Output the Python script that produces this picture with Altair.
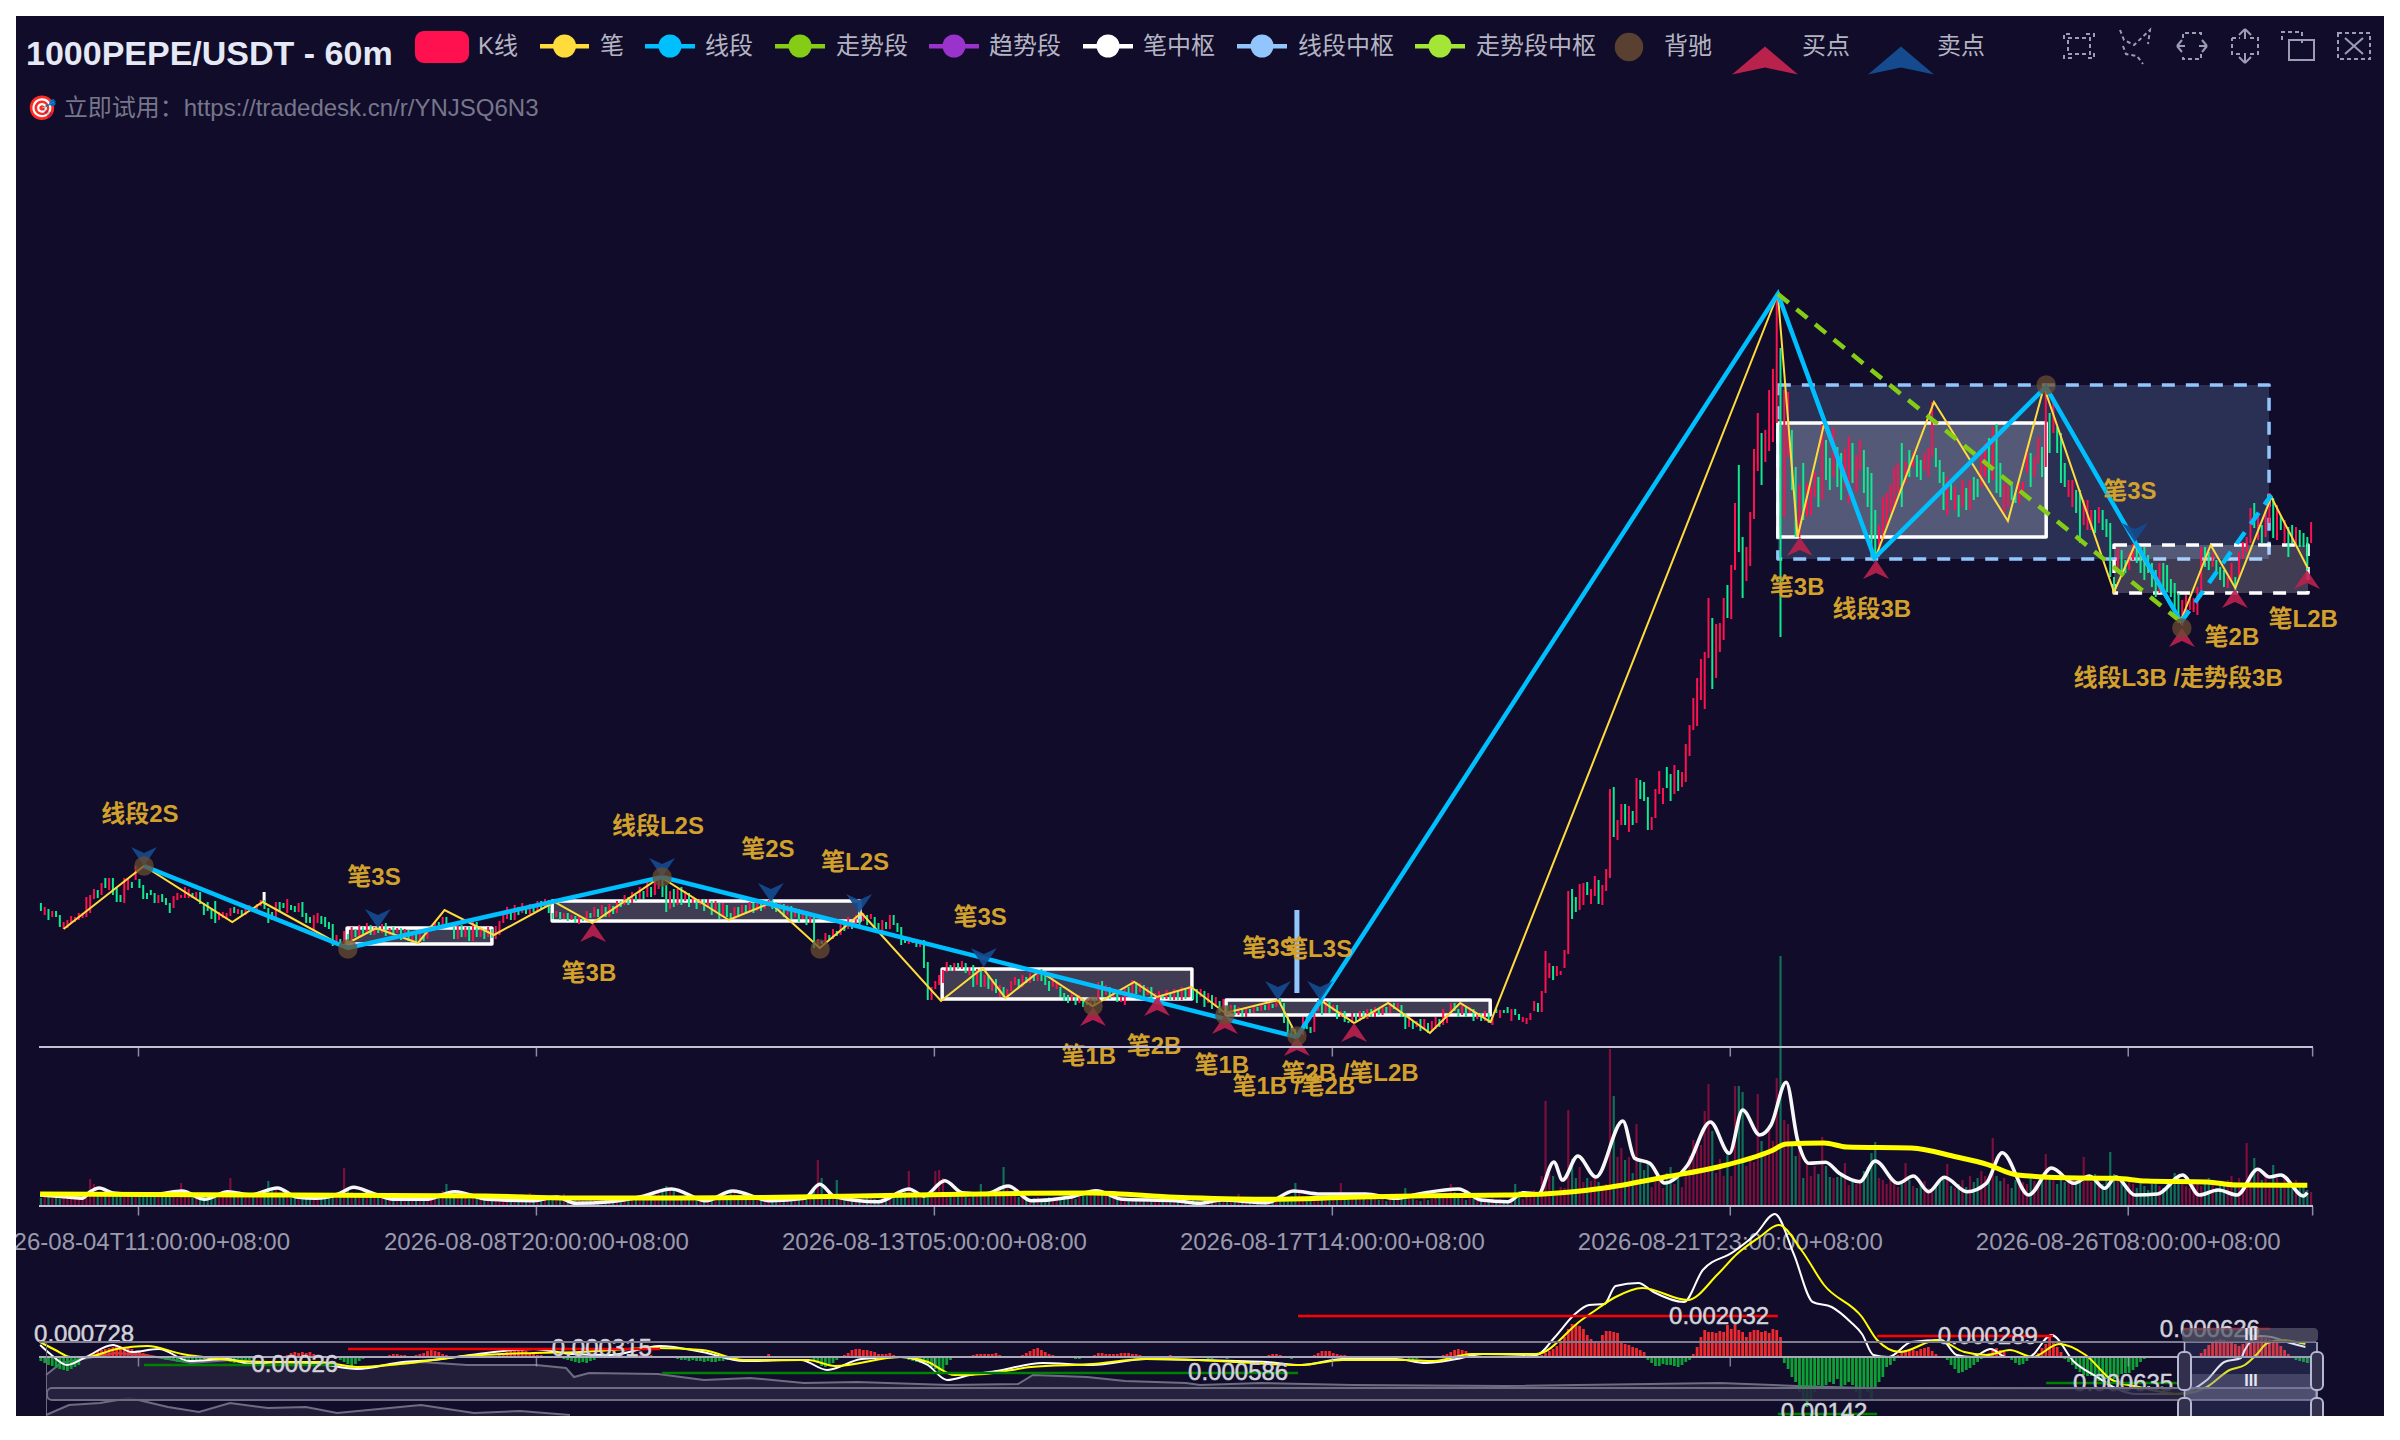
import altair as alt
import pandas as pd

FONT = "Liberation Sans, Noto Sans CJK SC, sans-serif"
BG = "#100C2A"
RED = "#FF1150"
GREEN = "#0FE98F"
YELLOW = "#FFDC3C"
BLUE = "#00BFFF"
TREND = "#84CC16"
PALE = "#93C5FD"
GOLD = "#D2A12B"
BUY = "#BA224E"
SELL = "#154B8E"

# ---------- candles (open, close), price in 1e-5 USDT above the axis floor ----------
k_000 = [(144,136),(132,140),(138,127),(130,136),(136,130),(132,120),(118,125),(119,127),(124,131),(125,130),
 (127,134),(129,134),(130,150),(134,152),(148,158),(157,149),(152,164),(169,159),(157,169),(169,152),
 (160,145),(152,145),(144,169),(157,169),(165,159),(167,181),(168,159),(162,148),(154,148),(157,152),
 (154,144),(144,152),(153,145),(149,142),(144,134),(139,151),(147,154),(149,152),(149,160),(149,158),
 (154,149),(149,155),(155,143),(144,132),(145,136),(139,128),(146,124),(127,135),(129,135),(128,134),
 (131,139),(140,134),(133,138),(137,132),(132,139),(135,142),(140,135),(137,143),(141,147),(147,138),
 (139,124),(135,127),(128,145),(145,135),(144,139),(134,148),(142,137),(141,135),(135,144),(145,130),
 (134,124),(130,124),(116,132),(124,134),(131,123),(130,120),(125,118),(123,101),(103,112),(108,102)]
k_080 = [(104,116),(113,106),(106,120),(118,110),(110,122),(120,113),(113,124),(122,112),(112,120),(120,114),
 (114,123),(124,111),(112,119),(120,113),(114,119),(119,107),(108,118),(117,106),(107,116),(116,105),
 (104,113),(112,106),(108,118),(116,122),(120,126),(125,118),(120,130),(130,122),(122,120),(120,108),
 (108,122),(122,110),(110,120),(120,106),(106,126),(125,110),(110,118),(118,108),(110,120),(118,109),(108,121)]
k_121 = [(112,126),(124,136),(128,140),(136,127),(127,142),(140,132),(134,144),(140,133),(133,143),(143,135),
 (136,146),(146,138),(140,148),(147,134),(134,128),(130,136),(135,127),(128,134),(134,126),(127,132),
 (131,124),(123,131),(130,126),(126,136),(134,129),(130,140),(138,130),(132,142),(140,130),(130,143),
 (141,133),(134,146),(146,140),(142,152),(150,142),(144,155),(152,146),(148,160),(156,148),(150,165),(160,150),(152,166),(158,170)]
k_164 = [(170,150),(162,135),(138,156),(158,140),(142,158),(160,142),(146,156),(154,140),(144,150),(148,138),
 (142,148),(148,136),(140,148),(146,132),(136,146),(144,128),(130,144),(142,130),
 (134,128),(128,140),(140,130),(132,142),(142,134),(136,145),(144,134),(136,146),(146,136),(138,144),(143,147),(147,138)]
k_194 = [(145,135),(136,144),(143,130),(132,142),(141,128),(130,139),(138,125),(128,137),(136,122),(124,132),
 (134,99),(100,108),(106,103),(104,114),(112,107),(108,118),(116,111),(112,124),(122,116),(118,130),(124,118),(120,132),(128,122),(126,134)]
k_218 = [(132,122),(128,133),(130,120),(124,118),(115,127),(125,118),(118,132),(132,122),(124,115),(120,102),
 (110,104),(103,110),(108,104),(108,100),(100,107),(107,79),(85,47),(47,60),(58,66)]
k_237 = [(62,72),(64,77),(75,85),(82,76),(76,84),(84,78),(78,86),(84,74),(72,80),(82,60),
 (62,78),(76,60),(60,72),(72,58),(56,68),(68,54),(50,62),(60,49),(50,58)]
k_256 = [(56,66),(62,70),(68,60),(60,72),(70,64),(64,74),(72,66),(66,76),(78,66),(76,62),
 (66,56),(60,70),(58,64),(60,50),(54,46),(52,44),(46,54),(50,42),(44,52),(48,40),(44,42),(40,48),(48,41)]
k_279 = [(46,65),(66,50),(52,62),(60,48),(50,58),(56,45),(45,50),(42,60),(60,52),(50,67),
 (65,53),(55,64),(62,50),(52,60),(60,48),(50,54),(46,56),(52,48),(48,57),(54,47),
 (47,58),(56,47),(47,60),(58,48),(50,61),(60,48),(58,44),(50,58),(56,40),(44,54),(52,38),(40,50),(46,34),(38,48),(42,32)]
k_314 = [(34,42),(42,32),(32,40),(38,30),(30,38),(38,34),(34,42),(40,36),(36,43),(42,37),(37,45),(43,39),(40,47),(48,43),
 (44,24),(30,14),(20,10),(18,8),(10,18),(12,30),(30,18),(20,14),(15,38),(36,47),(48,32),(34,46)]
k_340 = [(46,34),(36,42),(42,28),(30,36),(36,25),(26,24),(24,34),(34,26),(26,36),(36,28),(28,38),(38,30),(30,40),(38,32),(32,42),(40,34),(34,44),
 (44,38),(38,44),(42,30),(34,18),(20,28),(26,18),(20,26),(28,16),(18,28),(24,14),(16,26),
 (18,30),(28,20),(22,38),(24,32),(34,44),(44,36),(38,30),(32,42),(40,30),(34,40),(38,26),(28,34),(34,26),(26,36),(34,24),(22,30)]
k_384 = [(38,34),(29,37),(37,34),(40,34),(26,38),(38,32),(33,27),(25,30),(23,29),(27,34),(36,46),(44,35),(35,56)]
k_397 = [(54,96),(69,84),(81,67),(71,81),(72,76),(79,97),(93,156),(158,128),(150,135),(137,163),
 (142,164),(165,152),(143,158),(151,171),(167,143),(142,162),(156,178),(169,258),(260,210),(207,227),
 (222,243),(243,222),(215,241),(236,222),(224,269),(267,248),(265,246),(250,217),(217,230),(229,258),
 (253,276),(243,259),(280,259),(273,246),(253,282),(277,256),(260,275),(265,303),(291,322),(317,349),
 (321,369),(347,388),(338,395),(389,449),(429,358),(369,423),(395,424),(407,449),(462,429),(428,482),
 (477,544),(582,495),(510,449),(466,500),(481,535),(528,598),(576,634),(614,562),(585,617),(596,657),(605,678)]
k_458 = [(624,752),(699,410),(530,657),(590,655),(617,557),(580,510),(510,562),(584,527),(530,564),(532,560),
 (550,575),(570,540),(547,623),(607,567),(589,557),(570,619),(600,560),(594,547),(560,598),(544,610),
 (604,564),(555,592),(577,607),(597,554),(580,540),(574,490),(537,490),(490,522),(507,550),(520,554),
 (534,562),(537,580),(554,584),(604,540),(564,585),(597,570),(580,595),(592,570),(587,567),(577,594),
 (570,599),(590,645),(599,580),(587,564),(575,537),(532,570),(567,547),(537,560),(552,530),(540,567),
 (559,537),(537,567),(570,547),(568,550),(560,594),(570,604),(609,564),(567,620),(623,554),(584,550),
 (534,564),(540,562),(564,547),(554,544),(544,564),(550,565),(574,600),(594,560),(570,590),(584,610),(600,570),(580,660)]
k_530 = [(634,594),(614,650),(620,594),(614,564),(584,560),(550,567),(540,567),(557,534),(557,504),(522,547),
 (517,547),(517,537),(537,514),(524,540),(537,517),(528,510),(524,470),(470,455)]
k_548 = [(477,499),(497,470),(487,474),(477,494),(487,503),(502,484),(500,474),(500,467),(492,474),(484,460),
 (477,450),(454,484),(484,452),(482,455),(468,450),(464,430),
 (454,424),(421,447),(430,452),(437,450),(435,449),(432,460),(450,500),(500,480),(495,477),(480,494),
 (487,474),(480,467),(477,460),(459,470),(467,484),(470,456),(470,495),(488,505),(495,510),
 (504,539),(544,519),(507,534),(522,504),(510,537),(524,554),(549,509),(507,542),(532,517),(504,527),
 (520,490),(522,504),(500,520),(517,500),(514,500),(510,477),(504,525)]
kline_parts = [(0,k_000),(80,k_080),(121,k_121),(164,k_164),(194,k_194),(218,k_218),(237,k_237),(256,k_256),
               (279,k_279),(314,k_314),(340,k_340),(384,k_384),(397,k_397),(458,k_458),(530,k_530),(548,k_548)]

# ---------- volume per candle ----------
volume = [8,9,10,8,9,7,11,10,9,8,10,12,11,27,22,13,12,14,11,13,
 12,10,9,14,11,13,10,12,9,11,13,12,10,9,11,10,8,23,14,10,
 9,8,12,11,10,9,13,8,10,11,28,14,12,10,9,11,12,10,13,15,
 25,18,16,11,10,9,12,10,8,9,11,8,7,10,9,8,11,12,10,14,
 38,18,14,10,9,8,11,12,9,10,8,7,9,10,8,9,7,8,10,9,
 8,10,9,12,11,13,15,22,12,11,10,9,8,7,9,8,10,9,8,7,
 9,8,7,10,8,9,10,12,9,13,8,7,6,8,9,7,8,10,12,9,
 8,6,7,5,6,7,6,5,7,6,7,6,5,6,8,9,7,10,8,9,
 12,13,11,15,16,20,18,17,10,9,8,7,9,6,7,5,6,7,8,6,
 7,10,14,15,11,9,8,7,9,8,10,7,6,8,7,6,9,8,7,9,
 8,7,10,12,16,46,28,11,9,10,26,9,8,7,6,8,7,6,9,8,
 7,6,9,8,7,10,9,11,14,35,12,10,9,13,12,9,35,36,28,14,
 11,9,13,10,9,8,12,10,22,12,10,9,11,16,39,18,14,10,9,8,
 7,6,8,9,7,8,9,7,6,8,10,9,8,7,9,11,10,13,16,14,
 12,10,9,8,7,6,8,7,6,5,7,6,8,7,5,6,7,5,8,6,
 5,4,6,5,7,5,4,6,5,4,5,6,8,5,6,7,12,9,7,5,
 4,6,5,4,7,8,6,9,8,7,10,23,14,10,8,7,9,8,6,10,
 12,9,8,23,13,9,8,7,9,8,6,7,8,6,7,5,8,7,6,9,
 18,8,7,6,5,8,6,7,9,8,10,12,22,14,10,8,6,9,7,8,
 6,5,7,8,6,7,5,6,
 13,22,15,7,10,10,16,13,30,105,32,30,10,19,18,96,47,28,39,24,28,25,30,24,17,22,157,110,49,58,46,49,33,82,45,36,43,19,24,26,18,33,39,22,33,19,33,50,66,60,61,95,122,75,33,47,30,53,30,120,120,114,40,47,44,112,65,52,75,65,128,250,86,82,60,50,60,28,42,30,40,32,69,40,29,28,29,30,43,21,25,22,27,35,39,53,64,28,26,22,27,23,19,24,43,26,20,18,
 22,25,18,16,20,24,28,42,20,18,22,26,19,30,24,28,35,30,26,68,
 30,25,28,22,18,26,30,24,22,28,25,20,32,52,30,26,22,28,24,30,
 26,22,30,49,28,24,32,26,22,30,54,32,26,24,20,28,22,18,24,20,
 16,22,26,20,18,24,22,33,28,24,20,18,22,26,20,24,28,22,18,24,
 20,26,30,24,28,22,63,30,48,34,26,30,24,41,28,22,30,24,20,26,18,22,16,14]

vol_fast = [(0.3,11),(7.4,9),(11.4,7.7),(13.4,14),(15.9,18),(19.5,13),(25.5,11.5),(31.6,12),(37.7,15),(43.7,6.7),(49.8,14.3),(55.8,11),(62.9,18),(67.9,9),(73,7.7),(79,12),(83,18.7),(88,12.7),(94,6.7),(102,6.7),(109.7,14.3),(118.4,6.7),(130.5,5.3),(136.6,9),(141.6,2.7),(150.7,4.3),(158.8,9.3),(166.9,17),(176,5.3),(183,15),(193,5.3),(202,7.7),(206,21.7),(210,9.3),(221.4,4.3),(229.5,17),(233.5,10),(239,25.3),(243.6,13.3),(249.6,12),(255.7,20),(261.8,5.3),(271.9,8.7),(278.9,15.3),(286,6.7),(300,5.3),
 (306,2.7),(312,6),(324,3.3),(331,15),(338,12),(350,12),(358,7.7),(364,12),(374.5,17),(380.5,6),(387.6,4.3),(391.6,13.3),(395.6,12),(399.7,44),(402,26),(406,50),(410.8,29),(417.9,85),(421,47.7),(425,42.7),(429,23),(435,41),(441,84),(446,52.7),(449.5,96),(454,71),(457,81),(461,123.7),(464,66),(467,42.7),(471.4,43.7),(475,32.7),(480.4,24.3),(484.5,45),(490.5,22.7),(494.6,30),(498.6,14.3),(502.7,28.7),(508.7,14.3),(513.8,22.7),(518,53.3),(525,11),(531,38),(537,22.7),(541,30),(545,17.7),(548,29),(553,11),(559,12),(565.6,31),(570,11),(575,16),(580,11),(585.4,36.7),(588.5,29),(591.5,31),(597.5,10),(598.5,13.3)]
vol_slow = [(0.3,12),(60,11),(118,10),(140,8),(159,8),(191,8.5),(231,11),(260,12.7),(278,13),(300,8.7),(324,6.7),(346,8.7),(366,10.3),(387,11),(397,12),(413,18),(429,29),(443,39),(457,55),(461,62),(471,63),(477,59),(494,58),(506,49),(514,41.7),(522,31),(538,28),(548,27.7),(556,25),(572,24),(580,21),(598.5,20.7)]

# ---------- MACD ----------
hist_parts = [(0,[-4,-6,-8,-9,-11,-12,-13,-14,-12,-10,-8]),
 (13,[2,4,6,7,8,9,10,12,11,10,9,8,6,5,4,3,2]),
 (31,[-1,-2,-3,-3,-4,-5,-5,-6,-5,-4,-4,-3,-2,-1]),
 (47,[-2,-3,-4,-5,-6,-6,-5,-4,-3,-2]),
 (64,[1,2,4,5,4,5,4,5,3,2]),
 (78,[-1,-3,-5,-7,-9,-7,-4,-2]),
 (91,[1,2,3,3,2,2,1,1,2,3,4,6,7,6,5,3,2,1]),
 (113,[1,2,2,1]),
 (120,[1,3,4,5,6,7,8,7,6,4,3,2,2]),
 (138,[-2,-3,-4,-5,-6,-5,-6,-4,-3,-1]),
 (155,[1,1,2,2,1,1,2,1]),
 (167,[-1,-2,-3,-3,-4,-3,-4,-4,-5,-4,-5,-5,-4,-4,-3,-2,-1]),
 (191,[1,3,1]),
 (195,[1,1,1,1]),
 (204,[-3,-6,-9,-10,-8,-6,-3]),
 (212,[2,4,7,8,8,7,7,6,5,3,3,3,4,2,1]),
 (229,[-3,-4,-5,-6,-7,-8,-10,-12,-17,-14,-8,-3,-1]),
 (245,[1,2,3,3,3,3,3,4,2]),
 (258,[1,2,4,6,8,9,7,5,3,2]),
 (272,[-1,-2,-2,-1]),
 (278,[2,4,4,3,3,3,3,4,4,4,3,3,2,1]),
 (296,[1,1,2,1]),
 (306,[-1,-1,-2,-2,-1,-1,-1,-2,-1]),
 (323,[1,2,3,3,2]),
 (329,[-1,-2,-1]),
 (336,[2,4,6,6,6,4,3,2,2,1]),
 (347,[1,1,1,1,1,1,1,1,1]),
 (360,[-1,-2,-3,-2]),
 (369,[1,2,3,5,7,8,7,6,4,2,1]),
 (391,[-1,-1]),
 (396,[2,4,6,8,11,14,20,28,33,33,31,28,22,18,15,15,22,26,26,25,24,16,13,12,10,9,7,5]),
 (424,[-3,-6,-9,-9,-7,-8,-8,-9,-10,-8,-5,-3]),
 (436,[3,10,20,27,25,25,24,26,25,32,28,33,27,25,20,25,27,27,25,26,24,28,27,20]),
 (460,[-6,-12,-20,-25,-35,-43,-50,-42,-35,-28,-30,-28,-25,-27,-22,-30,-28,-25,-28,-35,-42,-30,-35,-42,-32,-25,-20,-10,-8,-4]),
 (490,[2,4,7,8,7,6,8,9,10,6,3]),
 (503,[-3,-8,-12,-16,-15,-13,-11,-8,-5,-2]),
 (514,[4,7,9,7,5]),
 (520,[-3,-6,-8,-7,-4]),
 (527,[4,9,13,20,16,10,5]),
 (534,[-2,-5,-8,-12,-15,-18,-19,-19,-22,-24,-23,-22,-20,-22,-20,-17,-16,-16,-13,-10,-5,-2]),
 (559,[-1,-1]),
 (570,[4,8,12,16,17,18,17,16,14,13,11,13,16,17,20,23,22,19,18,15,14,11,7,3]),
 (594,[-1,-3,-4,-5,-6,-6])]
dif = [(0.3,12),(3.3,2),(7.4,-8),(12.4,0),(19.5,12),(24.5,5),(31.6,8),(39.7,-4),(49.8,-2),(55.8,-7),(63.9,-5),(74,-7),(84,-12),(96,-5),(104,-3),(112,1),(130.5,8),(140.6,3),(150.7,2),(163.8,11),(175,5),(186,-4),(201,-3),(208,-13),(217,-2),(227.4,0),(234.5,-8),(239.6,-23),(245.6,-18),(252.7,-14),(264.8,-6),(277.9,-8),(292,-2),(306,-3),
 (316,-4),(324,-5),(333,-8),(344,-2),(358,-2),(366,-6),(374,-2),(381,3),(395,2),(400,20),(405,42),(409,52),(413,53),(416,71),(422,74),(426,65),(434,55),(439,87),(447,105),(453,123),(458,143),(463,103),(468,55),(473,50),(478,35),(481,23),(484,2),(488,0),(494,15),(502,17),(506,2),(510,0),(515,8),(519,0),(525,0),(531,22),(537,-5),(543,-20),(549,-33),(553,-37),(564,-37),(572,-23),(576.6,-5),(581,-1),(582,7),(586,21),(589,20),(594,14),(598,10)]
dea = [(0.3,15),(4.3,7),(8.4,0),(12.4,0),(20.5,8),(28.6,11),(37.7,3),(47.8,-2),(57.8,-5),(74,-5),(84,-10),(98,-6),(110,0),(130.5,4),(142.6,5),(162.8,9),(175,7),(186,-3),(203,-3),(210,-9),(227.4,0),(234.5,-5),(241.6,-18),(249.6,-17),(261.8,-10),(277.9,-7),(292,-2),(305.8,-3),
 (316,-5),(333,-8),(344,-3),(360,-3),(368,-4),(378,3),(395,3),(407,37),(410,45),(416,60),(423,69),(435,57),(443,83),(448,103),(454,120),(459,132),(465,107),(471,72),(481,40),(485,17),(491,5),(501,17),(508,5),(514,2),(520,7),(526,0),(533,13),(540,2),(547,-23),(554,-30),(565,-37),(572,-30),(578,-13),(582,-8),(585,2),(588,14),(592,17),(598,13)]
levels = [(81.5,163.9,8,"red"),(27.7,78.6,-8,"green"),(164.4,332.2,-16,"green"),(332.2,458.8,41,"red"),
          (458.8,485,-57,"green"),(485,531.4,21,"red"),(529.6,565.7,-26,"green"),(565.7,588.7,28,"red")]
level_labels = [("0.000728",11.9,24),("0.000315",148.5,10),("0.00026",67.5,-6),("0.000586",316.4,-14),("0.002032",443.3,42),
                ("0.00142",471,-54),("0.000289",514.2,22),("0.000635",549.9,-25),("0.000626",572.8,29)]

# ---------- chan structure ----------
bi = [(6.5,118),(27.7,181),(51,125),(59,145),(80,101),(89,119),(100,104),(107,137),(120,112),(136,145),(146,124),(164,170),(182,127),(193,144),(206,99),(217,134),(238,46),(249,79),(255,49),(264,76),(278,41),(289,65),(295,50),(304,60),(313,34),(327,47),(332,10),(338,47),(347,24),(356,44),(367,14),(375,44),(383,25),(458.8,753),(464,510),(471,623),(484.5,489),(500,645),(519.5,526),(529,660),(547.5,455),(553,502),(565,425),(573,502),(579.5,459),(589,550),(598.6,479)]
segment = [(27.7,181),(81.5,99),(164.4,170),(331.9,10),(458.8,753),(484.3,489),(529.5,660),(565.2,425)]
segment_last = [(565.2,425),(589,552)]
trend = [(458.8,753),(565.2,425)]
bi_boxes = [(81.3,119.5,119,103),(135.4,216.6,146,126),(238.3,304.2,78,48),(313.2,382.9,47,32),(458.8,529.6,624,510)]
bi_box_dashed = [(547.5,598.7,502,454)]
seg_box = [(458.8,588.4,662,488)]
thin_marks = [(59.4,155,145,"white",3),(216.6,147,126,"#BFD8FF",3),(331.9,137,54,PALE,5)]
beichi = [(27.7,181),(81.5,98),(164.4,170),(206.1,98),(278.1,41),(312.9,32),(331.9,11),(529.6,662),(565.4,419)]
buy_points = [(146.2,124),(278.1,40),(295,50),(312.9,32),(331.9,10),(347,24),(464.6,510),(484.7,487),(565.4,419),(579.4,458),(598.4,477)]
sell_points = [(27.7,181),(89.4,119),(164.4,170),(193.1,145),(216.4,134),(249.3,80),(326.9,47),(338,47),(553,505)]
point_labels = [("线段2S",26.6,234),("笔3S",88.4,171),("线段L2S",163.3,222),("笔2S",192.3,199),("笔L2S",215.3,186),("笔3S",248.3,131),
 ("笔3S",324.5,100),("笔L3S",337.5,99),("笔3S",551.7,557),("笔3B",145.1,75),("笔1B",277,-8),("笔2B",294.2,2),("笔1B",312.1,-17),
 ("笔1B /笔2B",331.1,-38),("笔2B /笔L2B",345.9,-25),("笔3B",463.9,461),("线段3B",483.6,439),("线段L3B /走势段3B",564.4,370.5),
 ("笔2B",578.6,411),("笔L2B",597.4,429)]
tick_index = [26.25,131.25,236.25,341.25,446.25,551.25,599.9]
tick_labels = ["2026-08-04T11:00:00+08:00","2026-08-08T20:00:00+08:00","2026-08-13T05:00:00+08:00",
               "2026-08-17T14:00:00+08:00","2026-08-21T23:00:00+08:00","2026-08-26T08:00:00+08:00"]

# ---------- slider data shadows (page pixels) ----------
shadow_a = [(46,1375),(61,1363),(115,1353),(145,1355),(191,1363),(230,1360),(268,1362),(329,1365),(360,1368),(421,1362),(467,1365),(536,1365),(566,1368),(574,1377),(589,1373),(658,1374),(704,1380),(750,1378),(804,1383),(857,1382),(949,1385),(1018,1384),(1033,1375),(1087,1377),(1125,1381),(1186,1383),(1200,1385),(1261,1383),(1353,1385),(1506,1386),(1720,1383),(1797,1386),(1866,1388),(2011,1389),(2187,1388),(2316,1388)]
shadow_b = [(46,1415),(69,1405),(100,1403),(130,1398),(168,1407),(199,1412),(230,1403),(268,1408),(306,1407),(337,1413),(421,1405),(474,1413),(520,1411),(570,1415)]

legend_lines = [("笔",540,589,600,YELLOW),("线段",645,695,705,BLUE),("走势段",775,825,836,TREND),("趋势段",929,979,989,"#9933CC"),
                ("笔中枢",1083,1133,1143,"white"),("线段中枢",1237,1287,1298,PALE),("走势段中枢",1415,1465,1476,"#A3E635")]

# ---------- table building ----------
rows = []
for start, part in kline_parts:
    for j, (o, c) in enumerate(part):
        rows.append({"i": start + j + 0.5, "o": o, "c": c, "col": RED if c >= o else GREEN})
kdf = pd.DataFrame(rows).sort_values("i").reset_index(drop=True)
col_at = dict(zip((kdf["i"] - 0.5).astype(int), kdf["col"]))
vdf = pd.DataFrame({"i": [n + 0.5 for n in range(len(volume))], "v": volume, "z": 0,
                    "col": [col_at.get(n, RED) for n in range(len(volume))]})
hrows = []
for start, part in hist_parts:
    for j, h in enumerate(part):
        hrows.append({"i": start + j + 0.5, "h": h, "z": 0, "col": "#EE2A2F" if h > 0 else "#0FA035"})
hdf = pd.DataFrame(hrows)

def frame(pts, a="i", b="v"):
    return pd.DataFrame(pts, columns=[a, b])

one = pd.DataFrame({"a": [0]})
XS = alt.Scale(domain=[0, 600], range=[23, 2297], nice=False, zero=False)
YM = alt.Scale(domain=[0, 1000], range=[1031, 31], nice=False, zero=False)
YV = alt.Scale(domain=[0, 1000], range=[1190, 190], nice=False, zero=False)
YD = alt.Scale(domain=[-1000, 1000], range=[2341, 341], nice=False, zero=False)

def X(f="i"):
    return alt.X(f"{f}:Q", scale=XS, axis=None)

def Y(f, s):
    return alt.Y(f"{f}:Q", scale=s, axis=None, stack=None)

def px(v):
    return alt.value(v - 16)

def text(t, x, y, **kw):
    kw.setdefault("font", FONT)
    kw.setdefault("baseline", "middle")
    kw.setdefault("align", "left")
    return alt.Chart(one).mark_text(text=t, **kw).encode(x=px(x), y=px(y))

def rect(x0, y0, x1, y1, **kw):
    return alt.Chart(one).mark_rect(**kw).encode(x=px(x0), x2=px(x1), y=px(y0), y2=px(y1))

def symbol(x, y, shape, **kw):
    return alt.Chart(one).mark_point(shape=shape, size=4, **kw).encode(x=px(x), y=px(y))

def polyline(pts, **kw):
    d = pd.DataFrame([(a - 16, b - 16) for a, b in pts], columns=["px", "py"])
    return alt.Chart(d).mark_line(**kw).encode(x=alt.X("px:Q", scale=None, axis=None), y=alt.Y("py:Q", scale=None, axis=None))

def shade(pts, bottom, **kw):
    d = pd.DataFrame([(a - 16, b - 16) for a, b in pts], columns=["px", "py"])
    return alt.Chart(d).mark_area(**kw).encode(x=alt.X("px:Q", scale=None, axis=None),
                                               y=alt.Y("py:Q", scale=None, axis=None, stack=None), y2=px(bottom))

layers = []

# slider shadows (beneath the MACD)
layers += [shade(shadow_a, 1400, color="#221E3A"), polyline(shadow_a, color="#6E6C80", strokeWidth=2),
           shade(shadow_b, 1416, color="#221E3A"), polyline(shadow_b, color="#6E6C80", strokeWidth=2)]

# volume
layers.append(alt.Chart(vdf).mark_rule(strokeWidth=2.2, opacity=0.45).encode(
    x=X(), y=Y("z", YV), y2=alt.Y2("v:Q"), color=alt.Color("col:N", scale=None, legend=None)))
layers.append(alt.Chart(frame(vol_fast)).mark_line(color="white", strokeWidth=3.6, interpolate="monotone", opacity=0.97).encode(x=X(), y=Y("v", YV)))
layers.append(alt.Chart(frame(vol_slow)).mark_line(color="#FFFF00", strokeWidth=5, interpolate="monotone").encode(x=X(), y=Y("v", YV)))

# zones
def boxes(data, **kw):
    d = pd.DataFrame(data, columns=["a", "b", "t", "u"])
    return alt.Chart(d).mark_rect(strokeJoin="round", **kw).encode(x=X("a"), x2=alt.X2("b:Q"), y=Y("u", YM), y2=alt.Y2("t:Q"))

layers.append(boxes(seg_box, fill=PALE, fillOpacity=0.2, stroke=PALE, strokeWidth=3.5, strokeDash=[13, 11]))
layers.append(boxes(bi_boxes, fill="white", fillOpacity=0.2, stroke="white", strokeWidth=3.5))
layers.append(boxes(bi_box_dashed, fill="white", fillOpacity=0.2, stroke="white", strokeWidth=3.5, strokeDash=[13, 11]))
for a, t, u, c, w in thin_marks:
    d = pd.DataFrame({"i": [a], "t": [t], "u": [u]})
    layers.append(alt.Chart(d).mark_rule(color=c, strokeWidth=w).encode(x=X(), y=Y("t", YM), y2=alt.Y2("u:Q")))

# candles
layers.append(alt.Chart(kdf).mark_rule(strokeWidth=2).encode(
    x=X(), y=Y("o", YM), y2=alt.Y2("c:Q"), color=alt.Color("col:N", scale=None, legend=None)))

# chan lines
layers.append(alt.Chart(frame(bi)).mark_line(color=YELLOW, strokeWidth=2).encode(x=X(), y=Y("v", YM)))
layers.append(alt.Chart(frame(segment)).mark_line(color=BLUE, strokeWidth=4.5).encode(x=X(), y=Y("v", YM)))
layers.append(alt.Chart(frame(segment_last)).mark_line(color=BLUE, strokeWidth=4.5, strokeDash=[14, 10]).encode(x=X(), y=Y("v", YM)))
layers.append(alt.Chart(frame(trend)).mark_line(color=TREND, strokeWidth=4.5, strokeDash=[14, 10]).encode(x=X(), y=Y("v", YM)))

# points
layers.append(alt.Chart(frame(buy_points)).mark_point(shape="M0,0 L13,19 L0,13 L-13,19 Z", size=4, filled=True, color=BUY, opacity=0.92, strokeWidth=0).encode(x=X(), y=Y("v", YM)))
layers.append(alt.Chart(frame(sell_points)).mark_point(shape="M0,0 L13,-19 L0,-13 L-13,-19 Z", size=4, filled=True, color=SELL, opacity=0.92, strokeWidth=0).encode(x=X(), y=Y("v", YM)))
layers.append(alt.Chart(frame(beichi)).mark_point(shape="circle", size=380, filled=True, color="#6A4C30", opacity=0.75, strokeWidth=0).encode(x=X(), y=Y("v", YM)))
layers.append(alt.Chart(pd.DataFrame(point_labels, columns=["t", "i", "v"])).mark_text(font=FONT, fontSize=24, fontWeight="bold", color=GOLD, baseline="middle", dy=2).encode(x=X(), y=Y("v", YM), text="t:N"))

# axes
axis_df = pd.DataFrame({"a": [0.0], "b": [600.0], "z": [0]})
tick_df = pd.DataFrame({"i": tick_index, "z": 0})
for s in (YM, YV):
    layers.append(alt.Chart(axis_df).mark_rule(color="#C4C0D4", strokeWidth=2).encode(x=X("a"), x2=alt.X2("b:Q"), y=Y("z", s)))
    layers.append(alt.Chart(tick_df).mark_tick(color="#C4C0D4", thickness=1.5, size=9, yOffset=5).encode(x=X(), y=Y("z", s)))
label_df = pd.DataFrame({"i": tick_index[:6], "t": tick_labels, "z": 0})
layers.append(alt.Chart(label_df).mark_text(font=FONT, fontSize=24, color="#9A9AAC", baseline="middle", yOffset=36.5, clip=True).encode(x=X(), y=Y("z", YV), text="t:N"))

# MACD
layers.append(alt.Chart(hdf).mark_rule(strokeWidth=2.8).encode(
    x=X(), y=Y("z", YD), y2=alt.Y2("h:Q"), color=alt.Color("col:N", scale=None, legend=None)))
layers.append(alt.Chart(frame(dif)).mark_line(color="white", strokeWidth=2, interpolate="monotone").encode(x=X(), y=Y("v", YD)))
layers.append(alt.Chart(frame(dea)).mark_line(color="#FFFF00", strokeWidth=2, interpolate="monotone").encode(x=X(), y=Y("v", YD)))
lv = pd.DataFrame(levels, columns=["a", "b", "v", "c"])
layers.append(alt.Chart(lv).mark_rule(strokeWidth=2.5, clip=True).encode(
    x=X("a"), x2=alt.X2("b:Q"), y=Y("v", YD),
    color=alt.Color("c:N", scale=alt.Scale(domain=["red", "green"], range=["#FF0000", "#008000"]), legend=None)))
layers.append(alt.Chart(axis_df).mark_rule(color="#A8A8B8", strokeWidth=2).encode(x=X("a"), x2=alt.X2("b:Q"), y=Y("z", YD)))
layers.append(alt.Chart(tick_df).mark_tick(color="#A8A8B8", thickness=1.5, size=9, yOffset=5).encode(x=X(), y=Y("z", YD)))
layers.append(alt.Chart(pd.DataFrame(level_labels, columns=["t", "i", "v"])).mark_text(font=FONT, fontSize=24, color="#D2D2DA", stroke="#D2D2DA", strokeWidth=0.5, baseline="middle", dy=2, clip=True).encode(x=X(), y=Y("v", YD), text="t:N"))

# slider frame
layers.append(rect(39, 1341, 2316, 1343, fill="#7E7C90"))
layers.append(rect(47, 1388, 2316, 1400, fill="#262240", fillOpacity=0.85, stroke="#6E6C80", strokeWidth=2, cornerRadius=5))
layers.append(rect(46, 1342, 47, 1416, fill="#6E6C80"))
layers.append(rect(2182, 1328, 2318, 1342, fill="#55556A", fillOpacity=0.75, cornerRadius=4))
layers.append(rect(2185, 1342, 2316, 1416, fill="#6478B4", fillOpacity=0.2))
layers.append(rect(2185, 1374, 2316, 1400, fill="#8C8CAA", fillOpacity=0.32))
for gy in (1335, 1381):
    layers.append(text("III", 2251, gy, fontSize=16, color="#E6E6F0", align="center", fontWeight="bold"))
for hx0, hx1 in ((2178, 2191), (2311, 2323)):
    c = (hx0 + hx1) / 2
    layers.append(rect(c - 0.8, 1342, c + 0.8, 1416, fill="#B4B8D0"))
    layers.append(rect(hx0, 1352, hx1, 1390, fill="#32304C", stroke="#B4B8D0", strokeWidth=2, cornerRadius=5))
    layers.append(rect(hx0, 1398, hx1, 1430, fill="#32304C", stroke="#B4B8D0", strokeWidth=2, cornerRadius=5, clip=True))

# header
layers.append(text("1000PEPE/USDT - 60m", 26, 55, fontSize=34, fontWeight="bold", color="#E5E8F5"))
layers.append(text("🎯 立即试用：https://tradedesk.cn/r/YNJSQ6N3", 27, 109, fontSize=24, color="#77768A"))
layers.append(rect(415, 31, 469, 63, fill=RED, cornerRadius=9))
layers.append(text("K线", 478, 46.5, fontSize=24, color="#B4B4C2"))
for name, x0, x1, tx, c in legend_lines:
    layers.append(rect(x0, 44, x1, 48.5, fill=c))
    layers.append(alt.Chart(one).mark_point(shape="circle", size=529, filled=True, color=c, strokeWidth=0, opacity=1).encode(x=px((x0 + x1) / 2), y=px(46)))
    layers.append(text(name, tx, 46.5, fontSize=24, color="#B4B4C2"))
layers.append(alt.Chart(one).mark_point(shape="circle", size=812, filled=True, color="#5A4030", strokeWidth=0, opacity=1).encode(x=px(1629), y=px(47)))
layers.append(text("背驰", 1664, 46.5, fontSize=24, color="#B4B4C2"))
ARROW = "M0,-14 L33,14 L0,7 L-33,14 Z"
layers.append(symbol(1765, 60.5, ARROW, filled=True, color=BUY, strokeWidth=0, opacity=1))
layers.append(text("买点", 1802, 46.5, fontSize=24, color="#B4B4C2"))
layers.append(symbol(1901, 60.5, ARROW, filled=True, color=SELL, strokeWidth=0, opacity=1))
layers.append(text("卖点", 1937, 46.5, fontSize=24, color="#B4B4C2"))

# toolbox
ICON = "#9C9CB2"
dash_icons = [
 (2079, "M-15,-7 V-12 H-7 M7,-12 H15 V-7 M15,7 V12 H7 M-7,12 H-15 V7 M-11,-8 H11 V8 H-11 Z"),
 (2135, "M-15,-16 L-11,-6 L-1,-1 L15,-16 L13,-2 M-12,0 L-9,8 L2,10 L8,18"),
 (2192, "M-9,-8 V-13 H9 V-8 M9,8 V13 H-9 V8"),
 (2245, "M-13,-8 H-5 M5,-8 H13 V8 H5 M-5,8 H-13 V-8"),
 (2298, "M-16,-6 V-14 H4 V-2"),
 (2354, "M-16,-13 H16 V13 H-16 Z"),
]
for x, p in dash_icons:
    layers.append(symbol(x, 46, p, filled=False, color=ICON, strokeWidth=2, strokeDash=[4, 3], opacity=1))
solid_icons = [
 (2192, "M-15,0 H-7 M-15,0 L-10,-6 M-15,0 L-10,6 M15,0 H7 M15,0 L10,-6 M15,0 L10,6"),
 (2245, "M0,-17 V-7 M0,-17 L-6,-11 M0,-17 L6,-11 M0,17 V7 M0,17 L-6,11 M0,17 L6,11"),
 (2298, "M-9,-6 H16 V14 H-9 Z"),
 (2354, "M-9,-8 L9,8 M9,-8 L-9,8"),
]
for x, p in solid_icons:
    layers.append(symbol(x, 46, p, filled=False, color=ICON, strokeWidth=2, opacity=1))

chart = alt.layer(*layers).resolve_scale(x="independent", y="independent", color="independent").properties(
    width=2368, height=1400, padding=8, background="white",
    autosize=alt.AutoSizeParams(type="none", contains="content")
).configure_view(fill=BG, stroke=None)

chart.save("out.html", embed_options={"renderer": "svg", "actions": False})
